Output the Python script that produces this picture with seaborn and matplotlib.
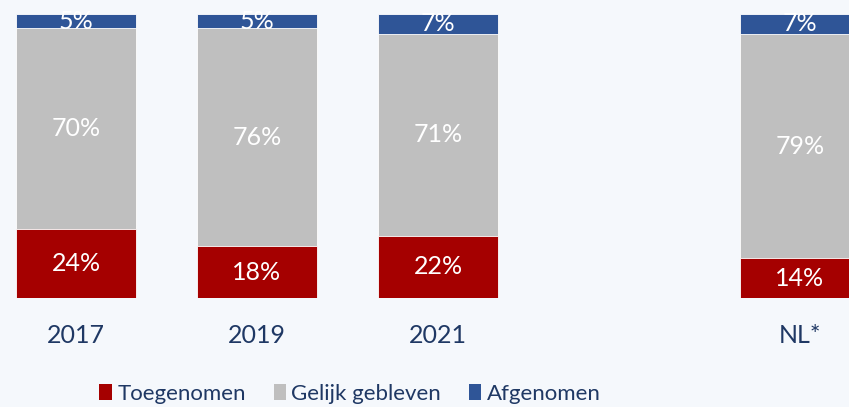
import matplotlib
matplotlib.use("Agg")
import matplotlib.pyplot as plt
import seaborn as sns
import pandas as pd
import numpy as np
from matplotlib.patches import Patch

categories = ["2017", "2019", "2021", " ", "NL*"]
toegenomen = [24, 18, 22, None, 14]
gelijk = [70, 76, 71, None, 79]
afgenomen = [5, 5, 7, None, 7]
series_names = ["Toegenomen", "Gelijk gebleven", "Afgenomen"]
colors = ["#A50000", "#BFBFBF", "#2F5597"]
bg = "#F5F8FC"
txt = "#1F3864"

sns.set_theme(style="white")
plt.rcParams["font.family"] = ["Lato", "DejaVu Sans"]

rows = []
for c, t, g, a in zip(categories, toegenomen, gelijk, afgenomen):
    if t is None:
        continue
    tot = t + g + a
    rows.append(dict(cat=c, t=t, g=g, a=a,
                     c1=t / tot * 100, c2=(t + g) / tot * 100, c3=100.0))
df = pd.DataFrame(rows)

fig = plt.figure(figsize=(8.49, 4.07), dpi=100, facecolor=bg)
ax = fig.add_axes([0, (407 - 298) / 407, 1, 298 / 407])
ax.set_facecolor(bg)

w = 0.663
for col, colr in zip(["c3", "c2", "c1"], colors[::-1]):
    sns.barplot(data=df, x="cat", y=col, order=categories, color=colr,
                width=w, edgecolor="white", linewidth=0.6, ax=ax,
                saturation=1)

xpos = {c: i for i, c in enumerate(categories)}
for _, r in df.iterrows():
    x = xpos[r["cat"]]
    segs = [(0, r.c1, r.t), (r.c1, r.c2, r.g), (r.c2, r.c3, r.a)]
    for lo, hi, v in segs:
        ax.text(x, (lo + hi) / 2, f"{int(v)}%", ha="center", va="center",
                color="white", fontsize=18)

ax.set_xlim(-76 / 181, (849 - 76) / 181)
ax.set_ylim(0, 100 + 14 / 2.84)
ax.set_xlabel("")
ax.set_ylabel("")
ax.set_yticks([])
ax.tick_params(axis="x", length=0, pad=19, labelsize=18, labelcolor=txt)
for s in ax.spines.values():
    s.set_visible(False)

handles = [Patch(facecolor=c, edgecolor="none") for c in colors]
fig.legend(handles, series_names, loc="center", bbox_to_anchor=(350 / 849, 1 - 394 / 407),
           ncol=3, frameon=False, handlelength=0.55, handleheight=0.72,
           handletextpad=0.25, columnspacing=1.25, labelcolor=txt,
           prop={"family": ["Lato"], "size": 16})

fig.savefig("out.png", dpi=100, facecolor=bg)
